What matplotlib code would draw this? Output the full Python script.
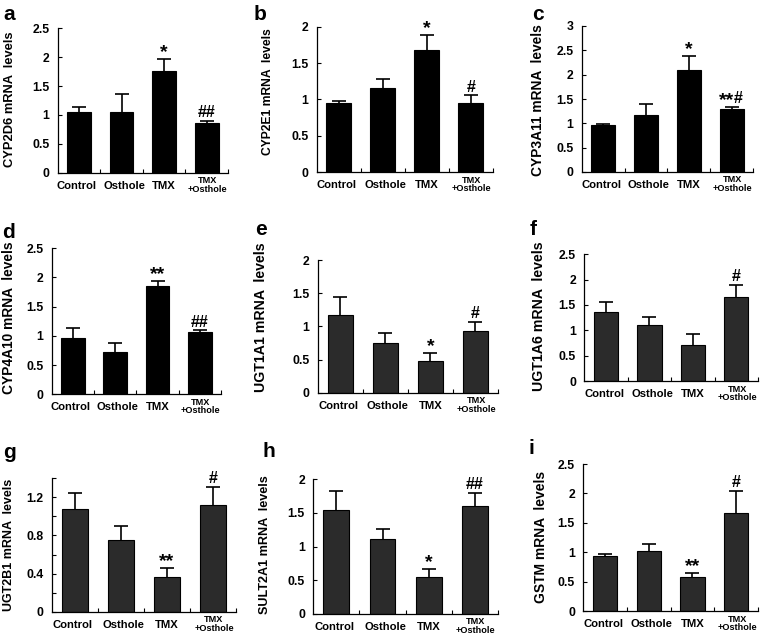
import matplotlib
matplotlib.use("Agg")
import matplotlib.pyplot as plt
import numpy as np

plt.rcParams['font.family'] = ['Liberation Sans', 'DejaVu Sans']
plt.rcParams['font.weight'] = 'bold'

W, H = 760, 642

groups = ["Control", "Osthole", "TMX", "TMX\n+Osthole"]

panel_letters = ["a", "b", "c", "d", "e", "f", "g", "h", "i"]
ylabels = ["CYP2D6 mRNA  levels", "CYP2E1 mRNA  levels", "CYP3A11 mRNA  levels",
           "CYP4A10 mRNA  levels", "UGT1A1 mRNA  levels", "UGT1A6 mRNA  levels",
           "UGT2B1 mRNA  levels", "SULT2A1 mRNA  levels", "GSTM mRNA  levels"]

means = {
    "a": [1.05, 1.05, 1.755, 0.866],
    "b": [0.956, 1.162, 1.68, 0.947],
    "c": [0.959, 1.178, 2.096, 1.288],
    "d": [0.97, 0.73, 1.855, 1.067],
    "e": [1.17, 0.744, 0.482, 0.925],
    "f": [1.368, 1.105, 0.711, 1.651],
    "g": [1.081, 0.752, 0.367, 1.12],
    "h": [1.545, 1.114, 0.554, 1.609],
    "i": [0.935, 1.015, 0.584, 1.661],
}
errs = {
    "a": [0.09, 0.31, 0.205, 0.034],
    "b": [0.028, 0.124, 0.20, 0.113],
    "c": [0.021, 0.219, 0.288, 0.052],
    "d": [0.16, 0.143, 0.085, 0.033],
    "e": [0.277, 0.161, 0.111, 0.145],
    "f": [0.198, 0.165, 0.223, 0.244],
    "g": [0.168, 0.147, 0.088, 0.192],
    "h": [0.287, 0.153, 0.119, 0.193],
    "i": [0.034, 0.119, 0.068, 0.385],
}
marks = {
    "a": ["", "", "*", "##"],
    "b": ["", "", "*", "#"],
    "c": ["", "", "*", "**#"],
    "d": ["", "", "**", "##"],
    "e": ["", "", "*", "#"],
    "f": ["", "", "", "#"],
    "g": ["", "", "**", "#"],
    "h": ["", "", "*", "##"],
    "i": ["", "", "**", "#"],
}
ymax = {"a": 2.5, "b": 2, "c": 3, "d": 2.5, "e": 2, "f": 2.5, "g": 1.4, "h": 2, "i": 2.5}
ystep = {"a": 0.5, "b": 0.5, "c": 0.5, "d": 0.5, "e": 0.5, "f": 0.5, "g": 0.4, "h": 0.5, "i": 0.5}

# layout in pixels: left, right, top, bottom of axes
rects = {
    "a": (57.7, 228, 28.3, 172.7),
    "b": (316.7, 492.7, 26.7, 172.3),
    "c": (581.7, 753, 26, 172),
    "d": (51.7, 221, 248.3, 394.3),
    "e": (317.7, 498, 260, 392.7),
    "f": (584.3, 758, 254.3, 381),
    "g": (51.7, 236, 478.3, 611.7),
    "h": (313.3, 498, 479.3, 614),
    "i": (583.3, 758, 464, 611),
}
ylab_pos = {"a": (10, 99.5), "b": (268, 92), "c": (537.5, 100), "d": (9, 318),
            "e": (261, 317), "f": (539, 316), "g": (9, 545), "h": (265, 545),
            "i": (541, 537)}
ylab_size = {"a": 9.3, "b": 8.7, "c": 9.9, "d": 9.9, "e": 10.2, "f": 10.2,
             "g": 9.0, "h": 9.1, "i": 10.0}
letter_pos = {"a": (3, 20), "b": (254, 20), "c": (532, 20), "d": (2, 238),
              "e": (255, 235), "f": (530, 235), "g": (3, 458), "h": (262, 457),
              "i": (528, 454)}
bar_color = {"a": "black", "b": "black", "c": "black", "d": "black",
             "e": "#2b2b2b", "f": "#2b2b2b", "g": "#2b2b2b", "h": "#2b2b2b", "i": "#2b2b2b"}
label_shift = [-2.0, 2.5, 0.0, 1.0]  # pixel nudges of the category labels

fig = plt.figure(figsize=(W / 100, H / 100), dpi=100)


def put_mark(ax, xi, y, text, dx=0, ha="center"):
    if "#" in text:
        fs, off = 11.5, 2.5
    else:
        fs, off = 14, 1.5
    ax.annotate(text, xy=(xi, y), xytext=(dx, off), textcoords="offset points",
                ha=ha, va="baseline", fontsize=fs, fontweight="bold")


for p, yl in zip(panel_letters, ylabels):
    l, r, t, b = rects[p]
    ax = fig.add_axes([l / W, 1 - b / H, (r - l) / W, (b - t) / H])
    x = np.arange(len(groups))
    ax.bar(x, means[p], width=0.56, color=bar_color[p], edgecolor="black", linewidth=0.8, zorder=2)
    eb = ax.errorbar(x, means[p], yerr=[np.zeros(4), errs[p]], fmt="none",
                     ecolor="black", elinewidth=1.2, capsize=5, capthick=1.2, zorder=3)
    caps = eb[1]
    if len(caps) == 2:
        caps[0].set_visible(False)
    ax.set_xlim(-0.5, 3.5)
    ax.set_ylim(0, ymax[p])
    ax.spines["top"].set_visible(False)
    ax.spines["right"].set_visible(False)
    ax.spines["left"].set_linewidth(0.9)
    ax.spines["bottom"].set_linewidth(0.9)
    # x ticks
    ax.set_xticks(x)
    ax.set_xticklabels([])
    ax.tick_params(axis="x", which="major", length=0)
    ax.set_xticks([0.5, 1.5, 2.5, 3.5], minor=True)
    ax.tick_params(axis="x", which="minor", direction="in", length=3, width=0.8)
    for xi, g, sh in zip(x, groups, label_shift):
        if "\n" in g:
            ax.annotate(g, xy=(xi, 0), xycoords=("data", "axes fraction"),
                        xytext=(sh, -3.5), textcoords="offset pixels",
                        ha="center", va="top", fontsize=6.6, fontweight="bold",
                        linespacing=0.9)
        else:
            ax.annotate(g, xy=(xi, 0), xycoords=("data", "axes fraction"),
                        xytext=(sh, -8), textcoords="offset pixels",
                        ha="center", va="top", fontsize=8.1, fontweight="bold")
    # y ticks
    st = ystep[p]
    yt = np.round(np.arange(0, ymax[p] + 1e-9, st), 3)
    yt = yt[yt <= ymax[p] + 1e-9]
    ax.set_yticks(yt)
    ax.set_yticklabels(["%g" % v for v in yt], fontsize=8.8, fontweight="bold")
    if p == "g":
        ax.set_yticks([0.2, 0.6, 1.0, 1.4], minor=True)
        ax.tick_params(axis="y", which="minor", direction="in", length=3, width=0.8)
    ax.tick_params(axis="y", which="major", direction="in", length=3, width=0.8, pad=6)
    # significance marks
    for xi, m, e in zip(x, marks[p], np.array(means[p]) + np.array(errs[p])):
        if not m:
            continue
        stars = m.rstrip("#")
        hashes = m[len(stars):]
        if stars and hashes:
            put_mark(ax, xi, e, stars, dx=2, ha="right")
            put_mark(ax, xi, e, hashes, dx=1.5, ha="left")
        else:
            put_mark(ax, xi, e, m)
    # y label
    lx, ly = ylab_pos[p]
    fig.text(lx / W, 1 - ly / H, yl, rotation=90, ha="center", va="center",
             fontsize=ylab_size[p], fontweight="bold")
    # panel letter
    px, py = letter_pos[p]
    fig.text(px / W, 1 - py / H, p, ha="left", va="baseline", fontsize=15, fontweight="bold")

fig.savefig("out.png", dpi=100, facecolor="white")
